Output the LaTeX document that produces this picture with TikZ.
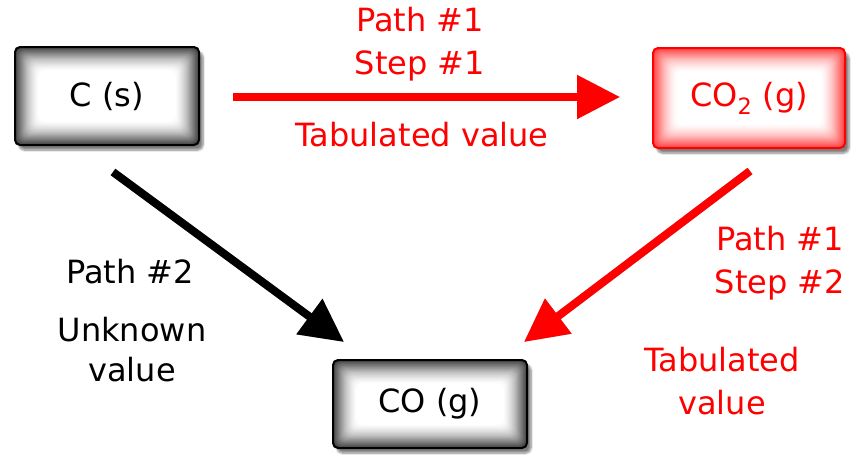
\documentclass[tikz,border=0pt]{standalone}
\usepackage{fontspec}
\setmainfont{DejaVu Sans}
\usetikzlibrary{arrows.meta,shadows.blur}

\tikzset{
  glowbox/.style={draw=#1, line width=2pt, rounded corners=5pt, inner sep=0pt,
    font=\fontsize{32}{38}\selectfont,
    blur shadow={shadow xshift=4pt, shadow yshift=-5pt, shadow blur steps=6, shadow opacity=50},
    path picture={
      % inner glow: nested fills fading to white
      \foreach \i in {0,...,22}{
        \pgfmathsetmacro\g{75*(1-\i/22)^1.6}
        \fill[#1!\g!white, rounded corners=6pt]
          ([shift={(1.1*\i pt,-1.1*\i pt)}]path picture bounding box.north west) rectangle
          ([shift={(-1.1*\i pt,1.1*\i pt)}]path picture bounding box.south east);
      }
    }},
  bigarrow/.style={line width=8pt, -{Triangle[length=43pt,width=42pt]}},
  arrowshade/.style={bigarrow, draw=black, opacity=0.28, shift={(4pt,-6pt)}},
  lbl/.style={font=\fontsize{32}{43}\selectfont, align=center}
}

\begin{document}
\begin{tikzpicture}[x=1pt,y=-1pt]
  \useasboundingbox (0,0) rectangle (851,461);

  % the three species
  \node[glowbox=black, minimum width=184pt, minimum height=98pt] (cs) at (107,96) {C (s)};
  \node[glowbox=red, text=red, minimum width=192pt, minimum height=100pt] (co2) at (749,98) {CO\textsubscript{2} (g)};
  \node[glowbox=black, minimum width=194pt, minimum height=88pt] (co) at (430,404) {CO (g)};

  % arrow ends
  \coordinate (h0) at (233,97);
  \coordinate (h1) at (620,97);
  \coordinate (r0) at (750,171);
  \coordinate (r1) at (524,342);
  \coordinate (b0) at (113,172);
  \coordinate (b1) at (344,342);

  % shadows under the arrows
  \draw[arrowshade] (h0) -- (h1);
  \draw[arrowshade] (r0) -- (r1);
  \draw[arrowshade] (b0) -- (b1);

  \draw[bigarrow, red] (h0) -- (h1);
  \draw[bigarrow, red] (r0) -- (r1);
  \draw[bigarrow, black] (b0) -- (b1);

  % labels
  \node[lbl, text=red] (p1s1) at (420,44) {Path \#1\\Step \#1};
  \node[lbl, text=red] (tab1) at (422,135) {Tabulated value};
  \node[lbl, text=red] (p1s2) at (780,263) {Path \#1\\Step \#2};
  \node[lbl, text=red] (tab2) at (722,381) {Tabulated\\value};
  \node[lbl] (p2) at (130,272) {Path \#2};
  \node[lbl, font=\fontsize{32}{40}\selectfont] (unk) at (132,350) {Unknown\\value};
\end{tikzpicture}
\end{document}
